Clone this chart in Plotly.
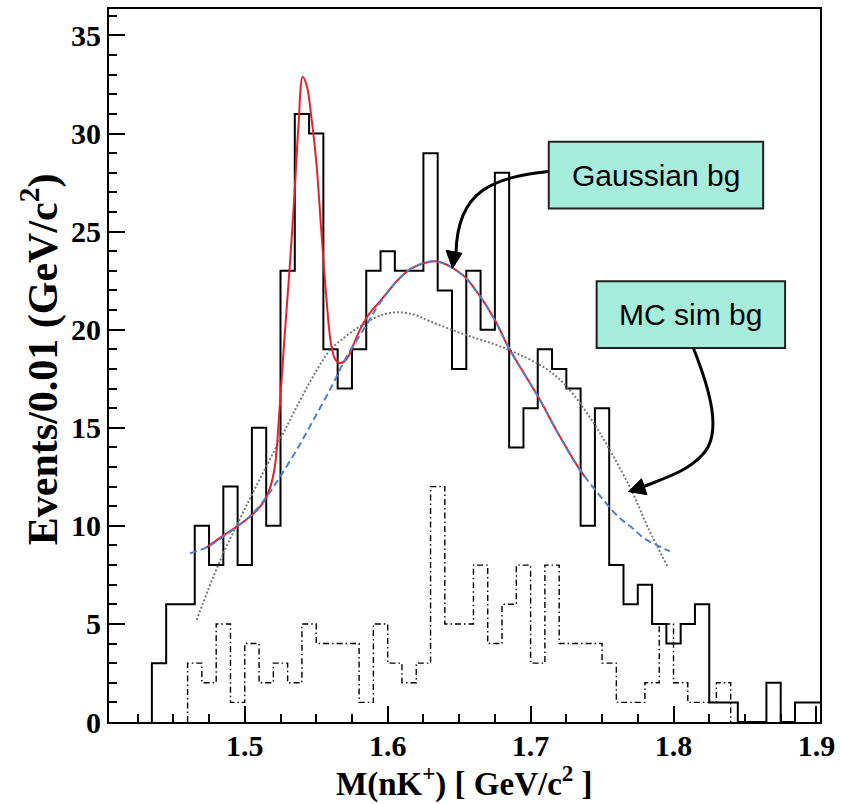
import plotly.graph_objects as go

# ---------------- data ----------------
# Solid histogram: bin centres (GeV/c^2), bin width 0.01, and event counts
hist_centers = [1.44, 1.45, 1.46, 1.47, 1.48, 1.49, 1.50, 1.51, 1.52, 1.53,
                1.54, 1.55, 1.56, 1.57, 1.58, 1.59, 1.60, 1.61, 1.62, 1.63,
                1.64, 1.65, 1.66, 1.67, 1.68, 1.69, 1.70, 1.71, 1.72, 1.73,
                1.74, 1.75, 1.76, 1.77, 1.78, 1.79, 1.80, 1.81, 1.82, 1.83,
                1.84, 1.85, 1.86, 1.87, 1.88, 1.89, 1.90]
hist_counts = [3, 6, 6, 10, 8, 12, 8, 15, 10, 23,
               31, 30, 19, 17, 19, 23, 24, 23, 23, 29,
               22, 18, 23, 20, 28, 14, 16, 19, 18, 17,
               10, 16, 8, 6, 7, 5, 4, 5, 6, 1,
               1, 0, 0, 2, 0, 1, 1]

# Dash-dotted histogram (control sample)
ctrl_centers = [1.465, 1.475, 1.485, 1.495, 1.505, 1.515, 1.525, 1.535, 1.545, 1.555,
                1.565, 1.575, 1.585, 1.595, 1.605, 1.615, 1.625, 1.635, 1.645, 1.655,
                1.665, 1.675, 1.685, 1.695, 1.705, 1.715, 1.725, 1.735, 1.745, 1.755,
                1.765, 1.775, 1.785, 1.795, 1.805, 1.815, 1.825, 1.835]
ctrl_counts = [3, 2, 5, 1, 4, 2, 3, 2, 5, 4,
               4, 4, 1, 5, 3, 2, 3, 12, 5, 5,
               8, 4, 6, 8, 3, 8, 4, 4, 4, 3,
               1, 1, 2, 5, 2, 1, 1, 2]

# Full fit (peak + Gaussian background)
fit_x = [1.4733, 1.4849, 1.4953, 1.5058, 1.5130, 1.5175, 1.5210, 1.5244, 1.5280,
         1.5314, 1.5348, 1.5375, 1.5406, 1.5435, 1.5465, 1.5500, 1.5534, 1.5569,
         1.5604, 1.5632, 1.5662, 1.5700, 1.5732, 1.5801, 1.5870, 1.5940, 1.6080,
         1.6173, 1.6336, 1.6521, 1.6638, 1.6754, 1.6847, 1.7056, 1.7195, 1.7334,
         1.7380]
fit_y = [8.9, 9.5, 10.0, 10.6, 11.2, 11.9, 13.0, 16.0, 19.8,
         23.15, 26.9, 30.3, 32.9, 32.4, 30.9, 28.6, 25.2, 21.8,
         19.25, 18.5, 18.3, 18.4, 18.75, 19.93, 20.8, 21.4, 22.6,
         23.15, 23.49, 22.81, 21.79, 20.44, 19.08, 16.54, 14.68, 12.98,
         12.5]

# Gaussian background component
gbg_x = [1.4617, 1.4733, 1.4849, 1.4953, 1.5058, 1.5160, 1.5244, 1.5360, 1.5477,
         1.5615, 1.5710, 1.5848, 1.5940, 1.6080, 1.6173, 1.6336, 1.6521, 1.6638,
         1.6754, 1.6847, 1.7056, 1.7195, 1.7334, 1.7474, 1.7617, 1.7706, 1.7800,
         1.7974]
gbg_y = [8.6, 8.9, 9.45, 10.0, 10.65, 11.55, 12.47, 13.83, 15.35,
         17.2, 18.6, 20.2, 21.3, 22.6, 23.15, 23.49, 22.81, 21.79,
         20.44, 19.08, 16.54, 14.68, 12.98, 11.63, 10.44, 9.93, 9.34,
         8.71]

# Monte Carlo simulated background shape
mc_x = [1.4663, 1.4826, 1.5030, 1.5240, 1.5380, 1.5500, 1.5600, 1.5662, 1.5750,
        1.5848, 1.5940, 1.6050, 1.6170, 1.6290, 1.6520, 1.6750, 1.6916, 1.7100,
        1.7240, 1.7427, 1.7544, 1.7706, 1.7822, 1.7960]
mc_y = [5.2, 8.2, 11.3, 14.3, 16.3, 17.9, 19.0, 19.4, 19.9,
        20.35, 20.7, 20.88, 20.8, 20.45, 19.8, 19.25, 18.75, 18.05,
        17.2, 15.4, 14.0, 11.8, 9.9, 7.9]

x_ticks = [1.5, 1.6, 1.7, 1.8, 1.9]
y_ticks = [0, 5, 10, 15, 20, 25, 30, 35]

BIN_W = 0.01


def step_outline(centers, counts, width):
    """ROOT-style histogram outline: starts and ends on the axis."""
    xs = [centers[0] - width / 2]
    ys = [0]
    for c, n in zip(centers, counts):
        xs += [c - width / 2, c + width / 2]
        ys += [n, n]
    xs.append(centers[-1] + width / 2)
    ys.append(0)
    return xs, ys


# ---------------- figure geometry ----------------
W, H = 842, 804
L, R, T, B = 109, 20, 7, 82
PW, PH = W - L - R, H - T - B


def P(px, py):
    """pixel position -> paper coordinates"""
    return (px - L) / PW, (H - B - py) / PH


def path(cmds):
    """Build an SVG path in paper coordinates from pixel positions."""
    out = []
    for cmd, pts in cmds:
        coords = " ".join("%.5f,%.5f" % P(*p) for p in pts)
        out.append(cmd + coords)
    return " ".join(out)


fig = go.Figure()

hx, hy = step_outline(hist_centers, hist_counts, BIN_W)
cx, cy = step_outline(ctrl_centers, ctrl_counts, BIN_W)

fig.add_trace(go.Scatter(x=cx, y=cy, mode="lines",
                         line=dict(color="black", width=1.4, dash="6px,3px,1.5px,3px"),
                         hoverinfo="skip", showlegend=False))
fig.add_trace(go.Scatter(x=hx, y=hy, mode="lines",
                         line=dict(color="black", width=2),
                         hoverinfo="skip", showlegend=False))
fig.add_trace(go.Scatter(x=mc_x, y=mc_y, mode="lines", line_shape="spline",
                         line=dict(color="#7a7a7a", width=2, dash="2px,2px"),
                         showlegend=False))
fig.add_trace(go.Scatter(x=fit_x, y=fit_y, mode="lines", line_shape="spline",
                         line=dict(color="#e8202a", width=2),
                         showlegend=False))
fig.add_trace(go.Scatter(x=gbg_x, y=gbg_y, mode="lines", line_shape="spline",
                         line=dict(color="#4f7fd0", width=2, dash="7px,4px"),
                         showlegend=False))

tick_font = dict(family="Liberation Serif, Times New Roman, serif", size=30,
                 color="black", weight="bold")

fig.update_xaxes(range=[1.405, 1.9025], tickvals=x_ticks,
                 ticktext=["%.1f" % v for v in x_ticks],
                 ticks="inside", ticklen=16, tickwidth=1.5, tickcolor="black",
                 ticklabelstandoff=-4,
                 minor=dict(dtick=0.025, tick0=1.5, ticks="inside", ticklen=8,
                            tickwidth=1.5, tickcolor="black"),
                 showline=True, linecolor="black", linewidth=2, mirror=True,
                 showgrid=False, zeroline=False, tickfont=tick_font)
fig.update_yaxes(range=[0, 36.35], tickvals=y_ticks,
                 ticks="inside", ticklen=16, tickwidth=1.5, tickcolor="black",
                 minor=dict(dtick=1, tick0=0, ticks="inside", ticklen=8,
                            tickwidth=1.5, tickcolor="black"),
                 showline=True, linecolor="black", linewidth=2, mirror=True,
                 showgrid=False, zeroline=False, tickfont=tick_font)

serif_bold = "Liberation Serif, Times New Roman, serif"
annotations = [
    dict(text="M(nK<sup>+</sup>) [ GeV/c<sup>2</sup> ]", x=P(466, 0)[0], y=P(0, 782)[1],
         xref="paper", yref="paper", showarrow=False,
         font=dict(family=serif_bold, size=33, color="black", weight="bold"),
         xanchor="center", yanchor="middle"),
    dict(text="Events/0.01 (GeV/c<sup>2</sup>)", x=P(40, 0)[0], y=P(0, 358)[1],
         xref="paper", yref="paper", showarrow=False,
         font=dict(family=serif_bold, size=42, color="black", weight="bold"),
         textangle=-90, xanchor="center", yanchor="middle"),
]

box_font = dict(family="Liberation Sans, Arial, sans-serif", size=30, color="black")
boxes = [
    ("Gaussian bg", (550, 140), (765, 207)),
    ("MC sim bg", (598, 280), (787, 347)),
]
shapes = []
for label, (x0, y0), (x1, y1) in boxes:
    a = P(x0, y1)
    b = P(x1, y0)
    shapes.append(dict(type="rect", xref="paper", yref="paper",
                       x0=a[0], y0=a[1], x1=b[0], y1=b[1],
                       fillcolor="#a6ecda", line=dict(color="#222222", width=2)))
    c = P((x0 + x1) / 2, (y0 + y1) / 2)
    annotations.append(dict(text=label, x=c[0], y=c[1], xref="paper", yref="paper",
                            showarrow=False, font=box_font,
                            xanchor="center", yanchor="middle"))

# curved arrows with filled heads
shapes.append(dict(type="path", xref="paper", yref="paper",
                   path=path([("M", [(550, 170)]),
                              ("C", [(495, 176), (458, 188), (457, 252)])]),
                   line=dict(color="black", width=3)))
shapes.append(dict(type="path", xref="paper", yref="paper",
                   path=path([("M", [(453.5, 267)]), ("L", [(447, 249)]),
                              ("L", [(463, 252)]), ("Z", [])]),
                   fillcolor="black", line=dict(color="black", width=1)))

shapes.append(dict(type="path", xref="paper", yref="paper",
                   path=path([("M", [(695, 347)]),
                              ("C", [(712, 390), (724, 432), (705, 453)]),
                              ("C", [(690, 470), (670, 476), (645, 486)])]),
                   line=dict(color="black", width=3)))
shapes.append(dict(type="path", xref="paper", yref="paper",
                   path=path([("M", [(630, 491)]), ("L", [(643, 478)]),
                              ("L", [(648.5, 494)]), ("Z", [])]),
                   fillcolor="black", line=dict(color="black", width=1)))

fig.update_layout(width=W, height=H, margin=dict(l=L, r=R, t=T, b=B),
                  paper_bgcolor="white", plot_bgcolor="white",
                  annotations=annotations, shapes=shapes, showlegend=False)

fig.write_html("out.html")
